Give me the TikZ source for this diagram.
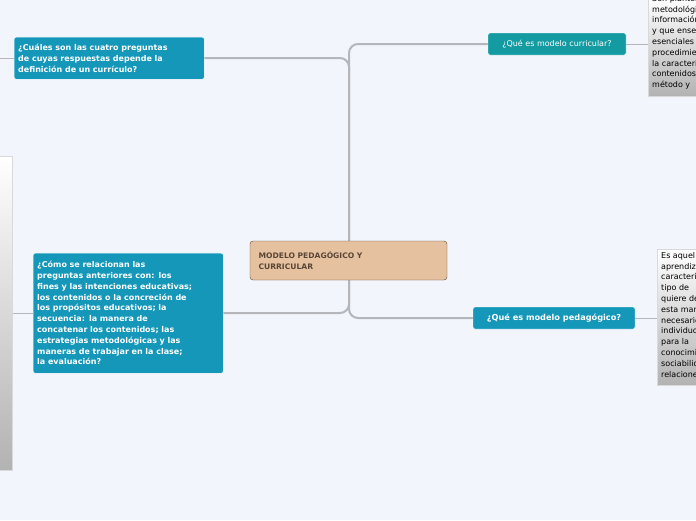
\documentclass[tikz,border=0pt]{standalone}
\usepackage{fontspec}
\setmainfont{DejaVu Sans}
\usepackage{tikz}
\usetikzlibrary{positioning}
\definecolor{mapBg}{HTML}{F3F5FD}
\definecolor{mapTeal}{HTML}{1497B8}
\definecolor{mapGreen}{HTML}{139BA1}
\definecolor{mapTan}{HTML}{E5C19F}
\definecolor{mapBrown}{HTML}{5A4636}
\definecolor{mapLine}{HTML}{B4B6BC}
\tikzset{
  topic/.style={fill=mapTeal, draw=white, rounded corners=2pt, text=white, font=\fontsize{8}{10.8}\selectfont\bfseries, align=left, inner sep=5pt, anchor=north west},
  note/.style={top color=white, bottom color=black!30, draw=black!15},
  notetext/.style={font=\fontsize{8}{10.8}\selectfont, align=left, anchor=north west, inner sep=0pt},
  branch/.style={mapLine, line width=2pt, rounded corners=9pt},
  twig/.style={mapLine, line width=0.7pt}
}
\begin{document}
\begin{tikzpicture}[x=1pt, y=-1pt]
  \fill[mapBg] (0,0) rectangle (696,520);
  \useasboundingbox (0,0) rectangle (696,520);

  % trunk and branches
  \draw[branch] (488,44) -- (349,44) -- (349,318) -- (473,318);
  \draw[branch] (204,58) -- (349,58) -- (349,313) -- (223,313);
  \draw[twig] (626,44) -- (648,44);
  \draw[twig] (635,318) -- (657,318);
  \draw[twig] (33,313) -- (12,313);
  \draw[twig] (14,58) -- (0,58);

  % central topic
  \node[fill=mapTan, draw=mapBrown, rounded corners=3pt, minimum width=197pt, minimum height=39pt,
        text width=180pt, align=left, font=\fontsize{7.6}{10.5}\selectfont\bfseries, text=mapBrown]
        (main) at (348.5,260.5) {MODELO PEDAGÓGICO Y\\CURRICULAR};

  % subtopics
  \node[topic, text width=182pt, minimum height=42pt, inner sep=4pt] (cuatro) at (14,37)
    {¿Cuáles son las cuatro preguntas\\de cuyas respuestas depende la\\definición de un currículo?};
  \node[topic, text width=182pt, minimum height=120pt, inner sep=4pt] (como) at (33,253)
    {¿Cómo se relacionan las\\preguntas anteriores con: los\\fines y las intenciones educativas;\\los contenidos o la concreción de\\los propósitos educativos; la\\secuencia: la manera de\\concatenar los contenidos; las\\estrategias metodológicas y las\\maneras de trabajar en la clase;\\la evaluación?};
  \node[topic, fill=mapGreen, font=\fontsize{8}{10}\selectfont, minimum width=138pt, minimum height=22pt, anchor=center] (curricular) at (557,44)
    {¿Qué es modelo curricular?};
  \node[topic, font=\fontsize{8.2}{10}\selectfont\bfseries, minimum width=162pt, minimum height=22pt, anchor=center] (pedagogico) at (554,318)
    {¿Qué es modelo pedagógico?};

  % notes, cut by the right and left edges
  \draw[note] (648,-2) rectangle (700,96);
  \draw[note] (657,249) rectangle (700,385);
  \draw[note] (-4,156) rectangle (12,470);
  \begin{scope}
    \clip (648,0) rectangle (696,96);
    \node[notetext] (notaCur) at (652,-5) {Son planteamientos\\metodológicos que\\información teórica\\y que enseñan\\esenciales y\\procedimientos\\la caracterización\\contenidos,\\método y};
  \end{scope}
  \begin{scope}
    \clip (657,249) rectangle (696,385);
    \node[notetext] (notaPed) at (661,252) {Es aquel\\aprendizaje\\característico\\tipo de\\quiere decir\\esta manera\\necesario\\individuos\\para la\\conocimiento\\sociabilidad\\relaciones};
  \end{scope}
\end{tikzpicture}
\end{document}
